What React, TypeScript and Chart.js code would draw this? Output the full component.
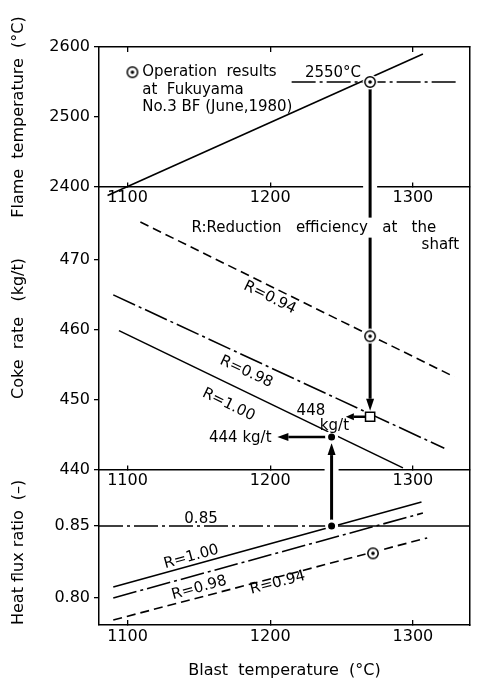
import React, { useEffect, useRef } from 'react';
import { Chart, registerables } from 'chart.js';

Chart.register(...registerables);

const FONT = "'DejaVu Sans', sans-serif";

// ---- axes ----
const BLAST_MIN = 1080;
const BLAST_MAX = 1340;
const BLAST_TICKS = [1100, 1200, 1300];
const FLAME_MIN = 2400;
const FLAME_MAX = 2600;
const FLAME_TICKS = [2400, 2500, 2600];
const COKE_MIN = 440;
const COKE_MAX = 480.4;
const COKE_TICKS = [440, 450, 460, 470];
const FLUX_MIN = 0.7812;
const FLUX_MAX = 0.8889;
const FLUX_TICKS = [0.8, 0.85];

// ---- series ----
const FLAME_LINE_X = [1086, 1307];
const FLAME_LINE_Y = [2388, 2590];
const FLAME_LEVEL_X = [1215, 1332];
const FLAME_LEVEL_Y = [2550, 2550];

const COKE_R094_X = [1109, 1329];
const COKE_R094_Y = [475.4, 453.3];
const COKE_R098_X = [1090, 1322];
const COKE_R098_Y = [465.0, 443.1];
const COKE_R100_X = [1094, 1293];
const COKE_R100_Y = [459.9, 440.3];

const FLUX_R100_X = [1090, 1306];
const FLUX_R100_Y = [0.8076, 0.8667];
const FLUX_R098_X = [1090, 1307];
const FLUX_R098_Y = [0.8, 0.859];
const FLUX_R094_X = [1090, 1310];
const FLUX_R094_Y = [0.7847, 0.8417];
const FLUX_LEVEL_X = [1080, 1243, 1340];
const FLUX_LEVEL_Y = [0.85, 0.85, 0.85];

// ---- operation / estimated points ----
const OP_BLAST = 1270;
const OP_FLAME = 2550;
const OP_COKE = 459.1;
const OP_FLUX_BLAST = 1272;
const OP_FLUX = 0.831;
const EST_COKE = 447.6;
const TARGET_BLAST = 1243;
const TARGET_COKE = 444.7;
const TARGET_FLUX = 0.85;

// ---- texts ----
const TITLE_X = 'Blast  temperature  (°C)';
const TITLE_FLAME = 'Flame  temperature  (°C)';
const TITLE_COKE = 'Coke  rate   (kg/t)';
const TITLE_FLUX = 'Heat flux ratio  (\u2013)';
const LEGEND_LINES = ['Operation  results', 'at  Fukuyama', 'No.3 BF (June,1980)'];
const LABEL_FLAME = '2550°C';
const NOTE_LINE1 = 'R:Reduction   efficiency   at   the';
const NOTE_LINE2 = 'shaft';
const R_LABELS = ['R=0.94', 'R=0.98', 'R=1.00'];
const LABEL_EST = ['448', 'kg/t'];
const LABEL_TARGET = '444 kg/t';
const LABEL_LEVEL = '0.85';

const toXY = (xs: number[], ys: number[]) => xs.map((x, i) => ({ x, y: ys[i] }));

function makeOpMarker() {
  const c = document.createElement('canvas');
  c.width = 16;
  c.height = 16;
  const g = c.getContext('2d')!;
  g.fillStyle = '#fff';
  g.beginPath();
  g.arc(8, 8, 7.5, 0, Math.PI * 2);
  g.fill();
  g.strokeStyle = '#000';
  g.lineWidth = 1.5;
  g.beginPath();
  g.arc(8, 8, 5.2, 0, Math.PI * 2);
  g.stroke();
  g.fillStyle = '#000';
  g.beginPath();
  g.arc(8, 8, 1.8, 0, Math.PI * 2);
  g.fill();
  return c;
}

function drawArrow(ctx: CanvasRenderingContext2D, x0: number, y0: number, x1: number, y1: number, lw: number, hl: number, hw: number) {
  const a = Math.atan2(y1 - y0, x1 - x0);
  const bx = x1 - hl * Math.cos(a);
  const by = y1 - hl * Math.sin(a);
  ctx.lineWidth = lw;
  ctx.beginPath();
  ctx.moveTo(x0, y0);
  ctx.lineTo(bx, by);
  ctx.stroke();
  ctx.beginPath();
  ctx.moveTo(x1, y1);
  ctx.lineTo(bx + hw * Math.sin(a), by - hw * Math.cos(a));
  ctx.lineTo(bx - hw * Math.sin(a), by + hw * Math.cos(a));
  ctx.closePath();
  ctx.fill();
}

function drawText(ctx: CanvasRenderingContext2D, str: string, px: number, py: number, o: any = {}) {
  ctx.save();
  ctx.translate(px, py);
  if (o.angle) ctx.rotate(o.angle);
  ctx.font = `${o.size || 15}px ${FONT}`;
  ctx.textAlign = o.align || 'center';
  ctx.textBaseline = o.baseline || 'middle';
  if (o.bg) {
    const w = ctx.measureText(str).width;
    let left = -w / 2;
    if (ctx.textAlign === 'left') left = 0;
    if (ctx.textAlign === 'right') left = -w;
    ctx.fillStyle = '#fff';
    ctx.fillRect(left - 3, -10, w + 6, 20);
  }
  ctx.fillStyle = '#000';
  ctx.fillText(str, 0, 0);
  ctx.restore();
}

function makeConfig(marker: HTMLCanvasElement): any {
  const lineDs = (xs: number[], ys: number[], yAxisID: string, dash: number[] = []) => ({
    data: toXY(xs, ys),
    xAxisID: 'x',
    yAxisID,
    showLine: true,
    borderColor: '#000',
    borderWidth: 1.6,
    borderDash: dash,
    pointRadius: 0,
    tension: 0,
    order: 2,
    clip: false,
  });
  const dashed = [9, 5];
  const dashDot = [24, 4, 3, 4];

  const fluxLevel: any = lineDs(FLUX_LEVEL_X, FLUX_LEVEL_Y, 'yB');
  fluxLevel.borderWidth = 1.3;
  fluxLevel.segment = { borderDash: (c: any) => (c.p0DataIndex === 0 ? dashDot : []) };

  const opMarker = (x: number, y: number, yAxisID: string) => ({
    data: [{ x, y }],
    xAxisID: 'x',
    yAxisID,
    showLine: false,
    pointStyle: marker,
    pointRadius: 6,
    order: 0,
  });
  const dot = (x: number, y: number, yAxisID: string) => ({
    data: [{ x, y }],
    xAxisID: 'x',
    yAxisID,
    showLine: false,
    pointStyle: 'circle',
    pointRadius: 5,
    pointBackgroundColor: '#000',
    pointBorderColor: '#fff',
    pointBorderWidth: 3,
    order: 0,
  });

  const datasets = [
    lineDs(FLAME_LINE_X, FLAME_LINE_Y, 'yT'),
    lineDs(FLAME_LEVEL_X, FLAME_LEVEL_Y, 'yT', dashDot),
    lineDs(COKE_R094_X, COKE_R094_Y, 'yM', dashed),
    lineDs(COKE_R098_X, COKE_R098_Y, 'yM', dashDot),
    lineDs(COKE_R100_X, COKE_R100_Y, 'yM'),
    lineDs(FLUX_R100_X, FLUX_R100_Y, 'yB'),
    lineDs(FLUX_R098_X, FLUX_R098_Y, 'yB', dashDot),
    lineDs(FLUX_R094_X, FLUX_R094_Y, 'yB', dashed),
    fluxLevel,
    opMarker(OP_BLAST, OP_FLAME, 'yT'),
    opMarker(OP_BLAST, OP_COKE, 'yM'),
    opMarker(OP_FLUX_BLAST, OP_FLUX, 'yB'),
    {
      data: [{ x: OP_BLAST, y: EST_COKE }],
      xAxisID: 'x',
      yAxisID: 'yM',
      showLine: false,
      pointStyle: 'rect',
      pointRadius: 6.5,
      pointBackgroundColor: '#fff',
      pointBorderColor: '#000',
      pointBorderWidth: 1.5,
      order: 0,
    },
    dot(TARGET_BLAST, TARGET_COKE, 'yM'),
    dot(TARGET_BLAST, TARGET_FLUX, 'yB'),
  ];

  const tickFont = { family: FONT, size: 16 };
  const xTicks = (s: any) => {
    s.ticks = BLAST_TICKS.map((v) => ({ value: v }));
  };
  const yAxis = (min: number, max: number, ticks: number[], weight: number, title: string, fmt: (v: number) => string, align = 'center') => ({
    type: 'linear',
    axis: 'y',
    position: 'left',
    stack: 'panels',
    stackWeight: weight,
    min,
    max,
    afterBuildTicks: (s: any) => {
      s.ticks = ticks.map((v) => ({ value: v }));
    },
    afterFit: (s: any) => {
      s.width = 99;
    },
    ticks: { color: '#000', font: tickFont, padding: 4, callback: (v: any) => fmt(Number(v)) },
    grid: { drawOnChartArea: false, drawTicks: true, tickLength: 5, color: '#000', lineWidth: 1.3 },
    border: { display: true, color: '#000', width: 1.5 },
    title: { display: true, text: title, color: '#000', align, font: { family: FONT, size: 16 }, padding: { top: 9, bottom: 0 } },
  });
  const innerX = (pos: any) => ({
    type: 'linear',
    axis: 'x',
    position: pos,
    min: BLAST_MIN,
    max: BLAST_MAX,
    afterBuildTicks: xTicks,
    ticks: { color: '#000', font: tickFont, padding: 6, maxRotation: 0, callback: (v: any) => String(v) },
    grid: { drawOnChartArea: false, drawTicks: true, tickLength: -5, color: '#000', lineWidth: 1.3 },
    border: { display: true, color: '#000', width: 1.5 },
  });

  const annotations = {
    id: 'annotations',
    beforeDatasetsDraw(chart: any) {
      const { ctx, scales } = chart;
      const { x, yT, yM, yB } = scales;
      const px1 = x.getPixelForValue(OP_BLAST);
      const px2 = x.getPixelForValue(TARGET_BLAST);
      ctx.save();
      // gaps in the panel borders where the arrows cross
      ctx.fillStyle = '#fff';
      const b1 = yT.getPixelForValue(FLAME_MIN);
      ctx.fillRect(px1 - 7, b1 - 3, 14, 6);
      const b2 = yB.getPixelForValue(FLUX_MAX);
      ctx.fillRect(px2 - 7, b2 - 3, 14, 6);
      ctx.strokeStyle = '#000';
      ctx.fillStyle = '#000';
      ctx.lineCap = 'butt';
      // from the operation flame temperature down to the estimated coke rate
      drawArrow(ctx, px1, yT.getPixelForValue(OP_FLAME), px1, yM.getPixelForValue(EST_COKE) - 6, 3, 12, 4);
      // from the heat-flux target up to the coke-rate target
      drawArrow(ctx, px2, yB.getPixelForValue(TARGET_FLUX), px2, yM.getPixelForValue(TARGET_COKE) + 6, 3, 12, 4);
      // horizontal arrows to the labels
      const yt = yM.getPixelForValue(TARGET_COKE);
      drawArrow(ctx, px2, yt, x.getPixelForValue(1205), yt, 2.5, 11, 4);
      const ye = yM.getPixelForValue(EST_COKE);
      drawArrow(ctx, px1 - 5, ye, x.getPixelForValue(1253), ye, 2.5, 8, 3.5);
      ctx.restore();
    },
    afterDatasetsDraw(chart: any) {
      const { ctx, scales } = chart;
      const { x, yT, yM, yB } = scales;
      const X = (v: number) => x.getPixelForValue(v);
      const angle = (xs: number[], ys: number[], s: any) =>
        Math.atan2(s.getPixelForValue(ys[1]) - s.getPixelForValue(ys[0]), X(xs[1]) - X(xs[0]));
      // legend
      ctx.drawImage(marker, X(1103.4) - 8, yT.getPixelForValue(2564) - 8);
      const legY = [2564, 2539, 2514];
      LEGEND_LINES.forEach((t, i) => drawText(ctx, t, X(1110.3), yT.getPixelForValue(legY[i]), { align: 'left' }));
      drawText(ctx, LABEL_FLAME, X(1244), yT.getPixelForValue(OP_FLAME) - 1, { baseline: 'bottom' });
      // note
      drawText(ctx, NOTE_LINE1, X(1230.6), yM.getPixelForValue(474.6), { bg: true });
      drawText(ctx, NOTE_LINE2, X(1332.3), yM.getPixelForValue(472.1), { align: 'right' });
      // R labels, coke panel
      drawText(ctx, R_LABELS[0], X(1199.7), yM.getPixelForValue(464.6), { angle: angle(COKE_R094_X, COKE_R094_Y, yM) });
      drawText(ctx, R_LABELS[1], X(1183.2), yM.getPixelForValue(454.0), { angle: angle(COKE_R098_X, COKE_R098_Y, yM) });
      drawText(ctx, R_LABELS[2], X(1170.8), yM.getPixelForValue(449.3), { angle: angle(COKE_R100_X, COKE_R100_Y, yM) });
      drawText(ctx, LABEL_EST[0], X(1228.5), yM.getPixelForValue(448.4));
      drawText(ctx, LABEL_EST[1], X(1245), yM.getPixelForValue(446.3));
      drawText(ctx, LABEL_TARGET, X(1179), yM.getPixelForValue(444.5));
      // heat flux panel
      drawText(ctx, LABEL_LEVEL, X(1151.5), yB.getPixelForValue(0.8547));
      drawText(ctx, R_LABELS[2], X(1144.7), yB.getPixelForValue(0.8285), { angle: angle(FLUX_R100_X, FLUX_R100_Y, yB) });
      drawText(ctx, R_LABELS[1], X(1150.2), yB.getPixelForValue(0.8069), { angle: angle(FLUX_R098_X, FLUX_R098_Y, yB) });
      drawText(ctx, R_LABELS[0], X(1205.2), yB.getPixelForValue(0.8104), { angle: angle(FLUX_R094_X, FLUX_R094_Y, yB) });
    },
  };

  return {
    type: 'scatter',
    data: { datasets },
    plugins: [annotations],
    options: {
      responsive: false,
      animation: false,
      devicePixelRatio: 1,
      layout: { padding: { top: 47, right: 3, bottom: 0, left: 0 } },
      plugins: { legend: { display: false }, tooltip: { enabled: false } },
      scales: {
        x: {
          type: 'linear',
          axis: 'x',
          position: 'bottom',
          min: BLAST_MIN,
          max: BLAST_MAX,
          afterBuildTicks: xTicks,
          afterFit: (s: any) => {
            s.height = 55;
          },
          ticks: { color: '#000', font: tickFont, padding: 7, maxRotation: 0, callback: (v: any) => String(v) },
          grid: { drawOnChartArea: false, drawTicks: true, tickLength: -5, color: '#000', lineWidth: 1.3 },
          border: { display: true, color: '#000', width: 1.5 },
          title: { display: true, text: TITLE_X, color: '#000', font: { family: FONT, size: 16 }, padding: { top: 0, bottom: 0 } },
        },
        xTop: {
          type: 'linear',
          axis: 'x',
          position: 'top',
          min: BLAST_MIN,
          max: BLAST_MAX,
          afterBuildTicks: xTicks,
          afterFit: (s: any) => {
            s.height = 0;
          },
          ticks: { display: false },
          grid: { drawOnChartArea: false, drawTicks: true, tickLength: -5, color: '#000', lineWidth: 1.3 },
          border: { display: true, color: '#000', width: 1.5 },
        },
        xMid: innerX({ yT: FLAME_MIN }),
        xLow: innerX({ yB: FLUX_MAX }),
        yB: yAxis(FLUX_MIN, FLUX_MAX, FLUX_TICKS, 155, TITLE_FLUX, (v) => v.toFixed(2), 'start'),
        yM: yAxis(COKE_MIN, COKE_MAX, COKE_TICKS, 283, TITLE_COKE, (v) => String(v)),
        yT: yAxis(FLAME_MIN, FLAME_MAX, FLAME_TICKS, 140, TITLE_FLAME, (v) => String(v)),
        yR: {
          type: 'linear',
          axis: 'y',
          position: 'right',
          min: 0,
          max: 1,
          afterFit: (s: any) => {
            s.width = 0;
          },
          ticks: { display: false },
          grid: { drawOnChartArea: false, drawTicks: false },
          border: { display: true, color: '#000', width: 1.5 },
        },
      },
    },
  };
}

export default function App() {
  const ref = useRef<HTMLCanvasElement>(null);
  useEffect(() => {
    if (!ref.current) return;
    const marker = makeOpMarker();
    const chart = new Chart(ref.current, makeConfig(marker));
    return () => chart.destroy();
  }, []);
  return (
    <div style={{ position: 'absolute', left: 0, top: 0, width: 478, height: 680, background: '#fff' }}>
      <canvas ref={ref} width={478} height={680} style={{ display: 'block', width: 478, height: 680 }} />
    </div>
  );
}
